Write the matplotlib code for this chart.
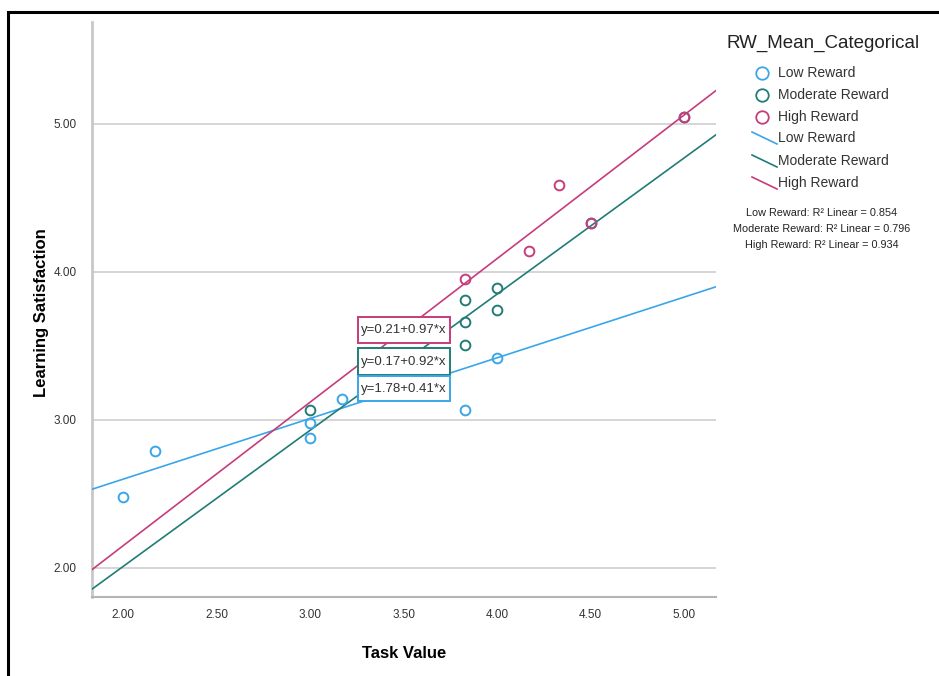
import matplotlib
matplotlib.use("Agg")
import matplotlib.pyplot as plt
from matplotlib.patches import Rectangle
import numpy as np

# ---- data ----
groups = ["Low Reward", "Moderate Reward", "High Reward"]
low_x = [2.00, 2.17, 3.00, 3.00, 3.17, 3.83, 4.00]
low_y = [2.48, 2.79, 2.88, 2.98, 3.14, 3.07, 3.42]
mod_x = [3.00, 3.83, 3.83, 3.83, 4.00, 4.00, 4.50, 5.00]
mod_y = [3.07, 3.81, 3.66, 3.51, 3.89, 3.74, 4.33, 5.05]
high_x = [3.83, 4.17, 4.33, 4.50, 5.00]
high_y = [3.95, 4.14, 4.59, 4.33, 5.05]
intercepts = [1.78, 0.17, 0.21]
slopes = [0.41, 0.92, 0.97]
r2 = [0.854, 0.796, 0.934]
x_ticks = [2.00, 2.50, 3.00, 3.50, 4.00, 4.50, 5.00]
y_ticks = [2.00, 3.00, 4.00, 5.00]

colors = ["#3AA6EA", "#217C78", "#C73C7C"]

W, H = 939, 676
fig = plt.figure(figsize=(W / 100, H / 100), dpi=100)
sans = ["Liberation Sans", "DejaVu Sans"]

ax = fig.add_axes([92 / W, 1 - 597 / H, (716 - 92) / W, (597 - 22) / H])
xlim = (1.834, 5.171)
ylim = (1.804, 5.689)
ax.set_xlim(*xlim)
ax.set_ylim(*ylim)

for sp in ["top", "right"]:
    ax.spines[sp].set_visible(False)
ax.spines["left"].set_color("#C8C8C8")
ax.spines["left"].set_linewidth(2.0)
ax.spines["bottom"].set_color("#B4B4B4")
ax.spines["bottom"].set_linewidth(1.5)

ax.set_yticks(y_ticks)
ax.set_yticklabels([f"{v:.2f}" for v in y_ticks], family=sans, fontsize=8.5, color="#333333")
ax.set_xticks(x_ticks)
ax.set_xticklabels([f"{v:.2f}" for v in x_ticks], family=sans, fontsize=8.5, color="#333333")
ax.tick_params(axis="both", length=0)
ax.tick_params(axis="y", pad=11)
ax.tick_params(axis="x", pad=9)
ax.grid(axis="y", color="#D2D2D2", linewidth=1.3)
ax.set_axisbelow(True)

ax.set_xlabel("Task Value", family=sans, fontsize=12, fontweight="bold", labelpad=18)
ax.set_ylabel("Learning Satisfaction", family=sans, fontsize=12, fontweight="bold")
ax.yaxis.set_label_coords((49 - 92) / 624, (597 - 313) / 575)

xs_list = [low_x, mod_x, high_x]
ys_list = [low_y, mod_y, high_y]
for xs, ys, c in zip(xs_list, ys_list, colors):
    ax.plot(xs, ys, linestyle="none", marker="o", markersize=7, markerfacecolor="none",
            markeredgecolor=c, markeredgewidth=1.4, zorder=4)

xx = np.array(xlim)
for a, b, c in zip(intercepts, slopes, colors):
    ax.plot(xx, a + b * xx, color=c, linewidth=1.2, zorder=3, clip_on=True)

# equation labels
box_rows = [(3.696, 3.520, 2), (3.486, 3.304, 1), (3.297, 3.128, 0)]
bx0, bx1 = 3.2545, 3.751
for top, bot, i in box_rows:
    ax.add_patch(Rectangle((bx0, bot), bx1 - bx0, top - bot, facecolor="white",
                           edgecolor=colors[i], linewidth=1.4, zorder=5))
    ax.text((bx0 + bx1) / 2, (top + bot) / 2, f"y={intercepts[i]:.2f}+{slopes[i]:.2f}*x",
            ha="center", va="center", family=sans, fontsize=9.5, color="#333333", zorder=6)

# overlay in pixel coordinates for legend and frame
ov = fig.add_axes([0, 0, 1, 1], facecolor="none")
ov.set_xlim(0, W)
ov.set_ylim(H, 0)
ov.axis("off")
ov.plot([8, 8, W + 5], [H + 5, 12, 12], color="black", linewidth=2.2, solid_joinstyle="miter")

ov.text(823, 43, "RW_Mean_Categorical", ha="center", va="center", family=sans,
        fontsize=13.5, color="#222222")
circ_y = [73, 95, 117]
line_y = [138, 161, 183]
for i, g in enumerate(groups):
    ov.plot([762], [circ_y[i]], marker="o", markersize=9, markerfacecolor="none",
            markeredgecolor=colors[i], markeredgewidth=1.3)
    ov.text(778, circ_y[i], g, ha="left", va="center", family=sans, fontsize=10, color="#333333")
    ov.plot([752, 777], [line_y[i] - 6, line_y[i] + 6], color=colors[i], linewidth=1.2)
    ov.text(778, line_y[i], g, ha="left", va="center", family=sans, fontsize=10, color="#333333")

r2_y = [213, 229, 245]
for i, g in enumerate(groups):
    ov.text(822, r2_y[i], f"{g}: R\u00b2 Linear = {r2[i]:.3f}", ha="center", va="center",
            family=sans, fontsize=7.8, color="#222222")

fig.savefig("out.png", dpi=100, facecolor="white")
